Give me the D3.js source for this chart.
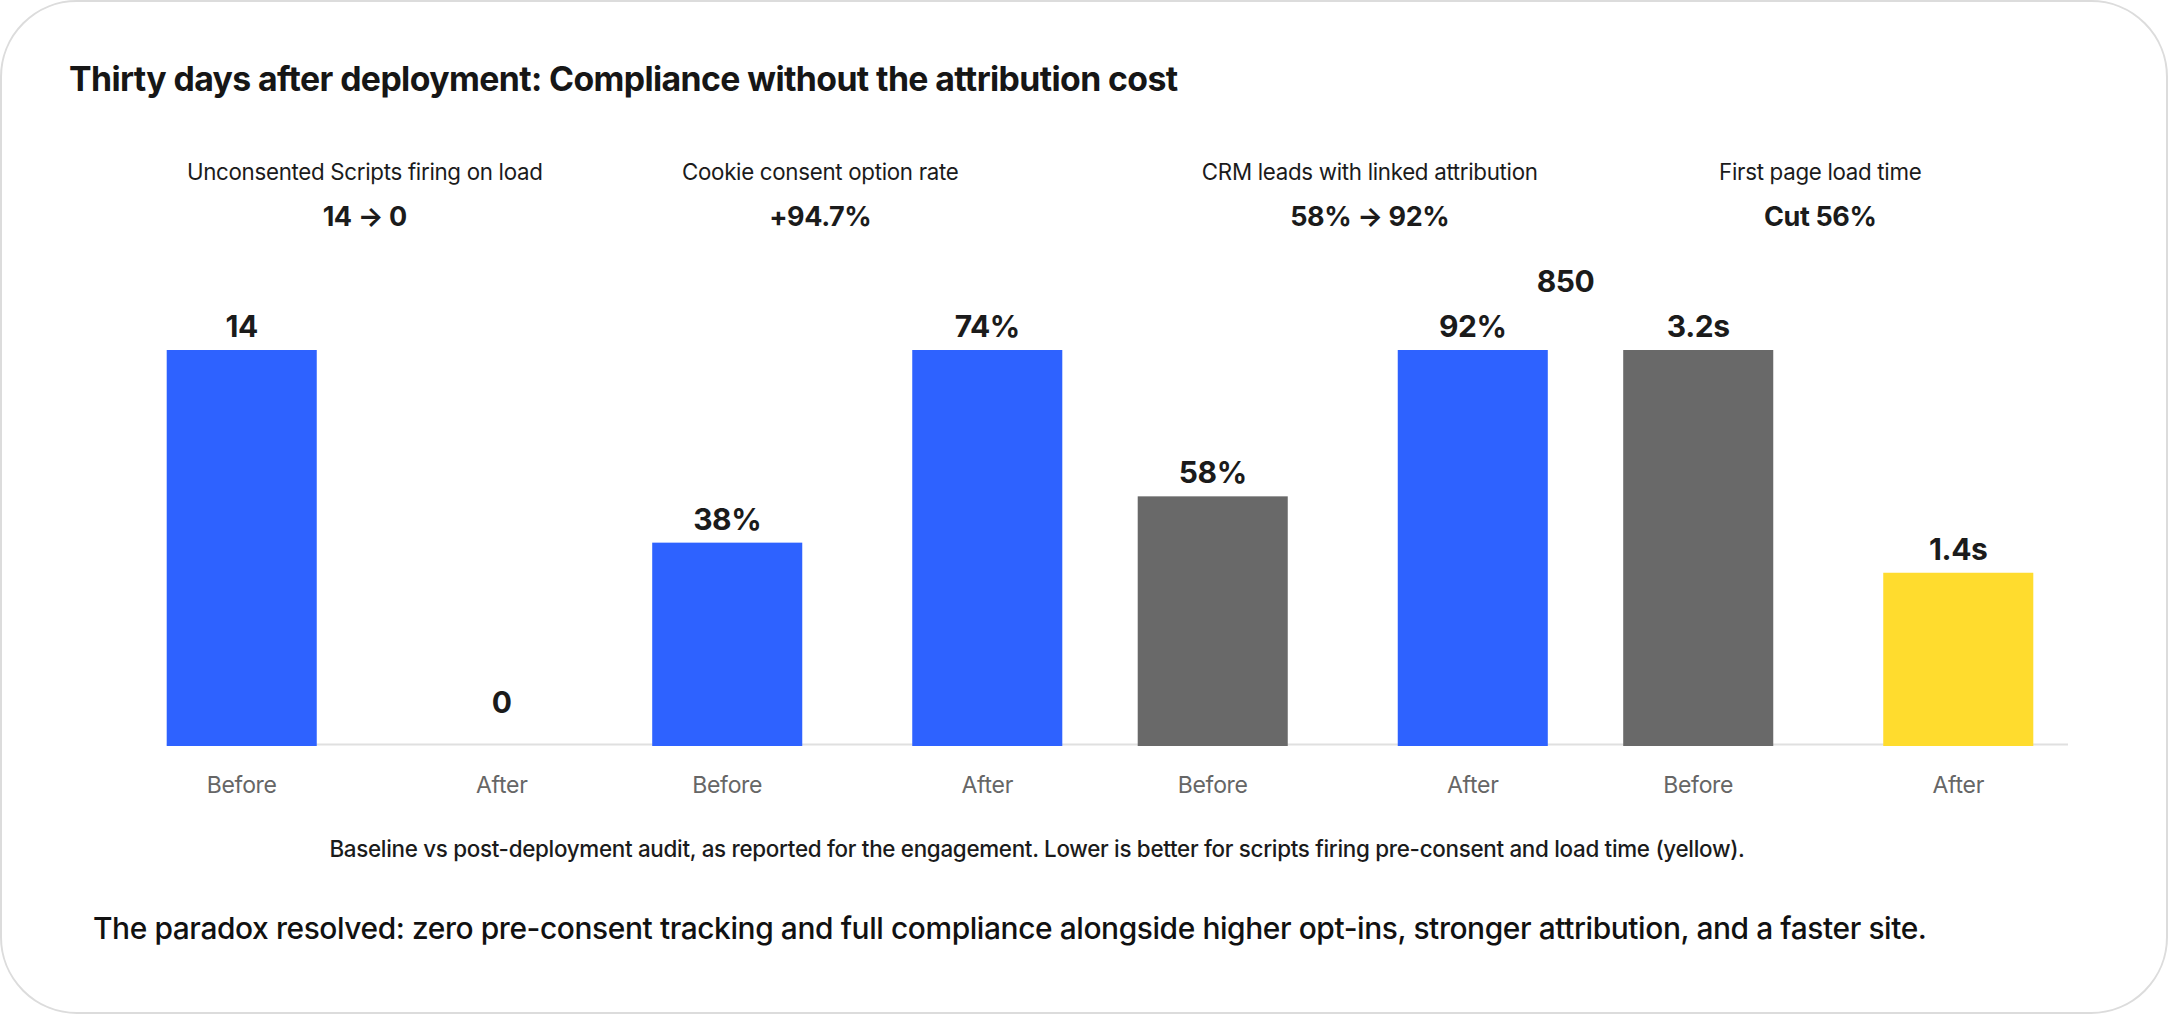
<!DOCTYPE html>
<html>
<head>
  <meta charset="utf-8">
  <script src="https://cdnjs.cloudflare.com/ajax/libs/d3/7.8.5/d3.min.js"></script>
  <style>
    html, body { margin: 0; padding: 0; background: #fff; }
    svg { display: block; font-family: Inter, "Noto Sans", sans-serif; }
    .title { font-size: 33.8px; font-weight: 700; fill: #161616; letter-spacing: -0.6px; }
    .metric { font-size: 22.3px; font-weight: 400; fill: #1b1b1b; letter-spacing: -0.3px; }
    .headline { font-size: 27px; font-weight: 700; fill: #1b1b1b; letter-spacing: -0.4px; }
    .value { font-size: 30px; font-weight: 700; fill: #1b1b1b; letter-spacing: -0.4px; }
    .phase { font-size: 23px; fill: #666; letter-spacing: -0.3px; }
    .note { font-size: 22.4px; font-weight: 500; fill: #1b1b1b; letter-spacing: -0.3px; }
    .takeaway { font-size: 29.9px; font-weight: 500; fill: #111; letter-spacing: -0.4px; }
  </style>
</head>
<body>
  <svg id="chart" width="2168" height="1014"></svg>
  <script>
    // values
    var metrics = ["Unconsented Scripts firing on load", "Cookie consent option rate",
                   "CRM leads with linked attribution", "First page load time"];
    var headlines = ["14 \u2192 0", "+94.7%", "58% \u2192 92%", "Cut 56%"];
    var phases = ["Before", "After"];
    var beforeValues = [14, 38, 58, 3.2];
    var afterValues = [0, 74, 92, 1.4];
    var beforeLabels = ["14", "38%", "58%", "3.2s"];
    var afterLabels = ["0", "74%", "92%", "1.4s"];
    var strayLabel = "850";

    var title = "Thirty days after deployment: Compliance without the attribution cost";
    var note = "Baseline vs post-deployment audit, as reported for the engagement. Lower is better for scripts firing pre-consent and load time (yellow).";
    var takeaway = "The paradox resolved: zero pre-consent tracking and full compliance alongside higher opt-ins, stronger attribution, and a faster site.";

    // styles
    var blue = "#2e62ff", grey = "#696969", yellow = "#ffdc2e";
    var beforeColors = [blue, blue, grey, grey];
    var afterColors = [blue, blue, blue, yellow];
    var headerNudge = [-7, -37, 27, -8];

    var W = 2168, H = 1014;
    var baseY = 746, peakY = 350;

    var svg = d3.select("#chart");

    // card
    svg.append("rect")
      .attr("x", 1).attr("y", 1)
      .attr("width", W - 2).attr("height", H - 2)
      .attr("rx", 76).attr("ry", 76)
      .attr("fill", "#fff")
      .attr("stroke", "#dcdcdc")
      .attr("stroke-width", 2);

    svg.append("text").attr("class", "title")
      .attr("x", 69).attr("y", 91)
      .text(title);

    var x0 = d3.scaleBand().domain(metrics).range([129, 2071]).padding(0);
    var x1 = d3.scaleBand().domain(phases).range([0, x0.bandwidth()])
      .paddingInner(0.423).paddingOuter(0.145);

    var rows = [];
    metrics.forEach(function(m, i) {
      rows.push({ metric: m, phase: "Before", value: beforeValues[i], label: beforeLabels[i], color: beforeColors[i], g: i });
      rows.push({ metric: m, phase: "After", value: afterValues[i], label: afterLabels[i], color: afterColors[i], g: i });
    });

    // each metric has its own scale, tallest bar reaches the same height
    var yScales = metrics.map(function(m, i) {
      return d3.scaleLinear()
        .domain([0, Math.max(beforeValues[i], afterValues[i])])
        .range([baseY, peakY]);
    });

    function cx(d) { return x0(d.metric) + x1(d.phase) + x1.bandwidth() / 2; }

    // metric headers
    var hdr = svg.append("g").selectAll("g")
      .data(metrics)
      .enter().append("g")
      .attr("transform", function(d, i) {
        return "translate(" + (x0(d) + x0.bandwidth() / 2 + headerNudge[i]) + ",0)";
      });
    hdr.append("text").attr("class", "metric")
      .attr("text-anchor", "middle").attr("y", 180)
      .text(function(d) { return d; });
    hdr.append("text").attr("class", "headline")
      .attr("text-anchor", "middle").attr("y", 226)
      .text(function(d, i) { return headlines[i]; });

    // baseline
    svg.append("line")
      .attr("x1", x0(metrics[0]) + x1("Before"))
      .attr("x2", x0.range()[1] - 3)
      .attr("y1", baseY - 1.5).attr("y2", baseY - 1.5)
      .attr("stroke", "#e0e0e0").attr("stroke-width", 2);

    svg.append("g").selectAll("rect")
      .data(rows)
      .enter().append("rect")
      .attr("x", function(d) { return x0(d.metric) + x1(d.phase); })
      .attr("width", x1.bandwidth())
      .attr("y", function(d) { return yScales[d.g](d.value); })
      .attr("height", function(d) { return baseY - yScales[d.g](d.value); })
      .attr("fill", function(d) { return d.color; });

    svg.append("g").selectAll("text")
      .data(rows)
      .enter().append("text")
      .attr("class", "value")
      .attr("text-anchor", "middle")
      .attr("x", cx)
      .attr("y", function(d) { return Math.min(yScales[d.g](d.value), baseY - 20) - 13; })
      .text(function(d) { return d.label; });

    svg.append("g").selectAll("text")
      .data(rows)
      .enter().append("text")
      .attr("class", "phase")
      .attr("text-anchor", "middle")
      .attr("x", cx)
      .attr("y", 793)
      .text(function(d) { return d.phase; });

    // loose label that sits above the gap before the last metric
    svg.append("text").attr("class", "value")
      .attr("text-anchor", "middle")
      .attr("x", x0(metrics[3]) - 20)
      .attr("y", yScales[3](3.2) - 58)
      .text(strayLabel);

    svg.append("text").attr("class", "note")
      .attr("text-anchor", "middle")
      .attr("x", 1037).attr("y", 857)
      .text(note);

    svg.append("text").attr("class", "takeaway")
      .attr("x", 93).attr("y", 939)
      .text(takeaway);
  </script>
</body>
</html>
